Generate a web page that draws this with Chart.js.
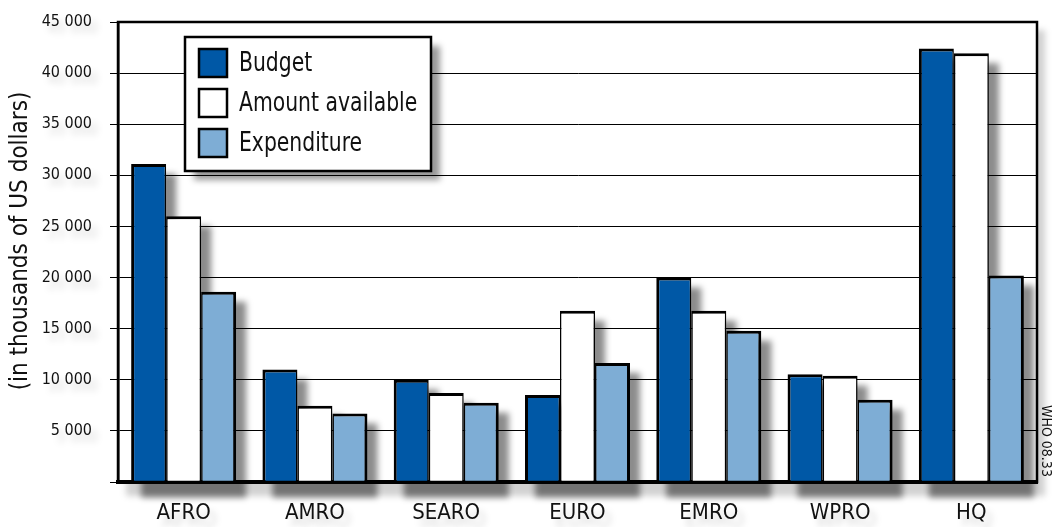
<!DOCTYPE html>
<html>
<head>
<meta charset="utf-8">
<script src="https://cdn.jsdelivr.net/npm/chart.js@4.4.1/dist/chart.umd.min.js"></script>
<style>
    html, body { margin: 0; padding: 0; background: #fff; }
    #wrap { position: relative; width: 1055px; height: 527px; }
</style>
</head>
<body>
<div id="wrap"><canvas id="budget-chart"></canvas></div>
<script>
// data (thousands of US dollars)
const regions = ['AFRO', 'AMRO', 'SEARO', 'EURO', 'EMRO', 'WPRO', 'HQ'];
const budget = [31100, 11000, 10000, 8500, 20000, 10550, 42400];
const amountAvailable = [26000, 7450, 8700, 16750, 16750, 10400, 41950];
const expenditure = [18600, 6700, 7750, 11650, 14800, 8050, 20200];
const seriesNames = ['Budget', 'Amount available', 'Expenditure'];
const seriesColors = ['#0058a6', '#ffffff', '#7eadd5'];
const yTitle = '(in thousands of US dollars)';

const FONT = "'DejaVu Sans Condensed', 'Liberation Sans Narrow', sans-serif";

// thousands with a space: 45 000
function fmt(v) {
    return String(v).replace(/\B(?=(\d{3})+(?!\d))/g, ' ');
}

// shadows under bars, frame and tick labels (drawn before grid)
const shadowPlugin = {
    id: 'shadows',
    beforeDraw(chart) {
        const ctx = chart.ctx;
        const area = chart.chartArea;
        ctx.save();
        ctx.filter = 'blur(3px)';

        // frame shadow, then clean white plot area
        ctx.fillStyle = 'rgba(0,0,0,0.18)';
        ctx.fillRect(area.left + 8, area.top + 8, area.right - area.left, area.bottom - area.top + 6);
        ctx.filter = 'none';
        ctx.fillStyle = '#fff';
        ctx.fillRect(area.left, area.top, area.right - area.left, area.bottom - area.top);
        ctx.filter = 'blur(3px)';

        // bar shadows, one path so overlaps don't get darker
        ctx.fillStyle = 'rgba(0,0,0,0.45)';
        ctx.beginPath();
        chart.data.datasets.forEach((ds, i) => {
            chart.getDatasetMeta(i).data.forEach(bar => {
                const left = bar.x - bar.width / 2;
                ctx.rect(left + 10, bar.y + 10, bar.width, bar.base - bar.y + 6);
            });
        });
        ctx.fill();

        // tick label shadows
        ctx.fillStyle = 'rgba(0,0,0,0.16)';
        const y = chart.scales.y;
        ctx.font = '16px ' + FONT;
        ctx.textAlign = 'right';
        ctx.textBaseline = 'middle';
        y.ticks.forEach(t => {
            if (t.value === 0) return;
            ctx.fillText(fmt(t.value), 98, y.getPixelForValue(t.value) + 7);
        });
        const x = chart.scales.x;
        ctx.font = '22px ' + FONT;
        ctx.textAlign = 'center';
        regions.forEach((r, i) => {
            ctx.fillText(r, x.getPixelForValue(i) + 6, 521);
        });
        ctx.restore();
    }
};

// frame, legend box, axis title and the small code at the right
const overlayPlugin = {
    id: 'overlay',
    afterDraw(chart) {
        const ctx = chart.ctx;
        const area = chart.chartArea;
        ctx.save();

        // plot frame
        ctx.strokeStyle = '#000';
        ctx.lineWidth = 2.5;
        ctx.strokeRect(area.left, area.top, area.right - area.left, area.bottom - area.top);

        // legend
        const lx = 185, ly = 37, lw = 246, lh = 134;
        ctx.save();
        ctx.filter = 'blur(3px)';
        ctx.fillStyle = 'rgba(0,0,0,0.4)';
        ctx.fillRect(lx + 9, ly + 9, lw, lh);
        ctx.restore();
        ctx.fillStyle = '#fff';
        ctx.fillRect(lx, ly, lw, lh);
        ctx.lineWidth = 2.5;
        ctx.strokeRect(lx, ly, lw, lh);

        ctx.textAlign = 'left';
        ctx.textBaseline = 'middle';
        chart.data.datasets.forEach((ds, i) => {
            const cy = 63 + i * 40;
            ctx.fillStyle = ds.backgroundColor;
            ctx.fillRect(199, cy - 14, 28, 28);
            ctx.lineWidth = 2.5;
            ctx.strokeStyle = '#000';
            ctx.strokeRect(199, cy - 14, 28, 28);
            ctx.save();
            ctx.translate(239, cy + 1);
            ctx.scale(0.87, 1);
            ctx.font = '26px ' + FONT;
            ctx.fillStyle = '#111';
            ctx.fillText(ds.label, 0, 0);
            ctx.restore();
        });

        // y axis title
        ctx.save();
        ctx.translate(21, 241);
        ctx.rotate(-Math.PI / 2);
        ctx.font = '24px ' + FONT;
        ctx.fillStyle = '#111';
        ctx.textAlign = 'center';
        ctx.textBaseline = 'middle';
        ctx.fillText(yTitle, 0, 0);
        ctx.restore();

        // WHO code
        ctx.translate(1046, 405);
        ctx.rotate(Math.PI / 2);
        ctx.font = '14px ' + FONT;
        ctx.fillStyle = '#111';
        ctx.textBaseline = 'middle';
        ctx.fillText('WHO 08.33', 0, 0);
        ctx.restore();
    }
};

function barBorder(side) {
    // thick outer edges of each group, thinner shared edges between bars
    if (side === 0) return { left: 3, right: 1.5, top: 3, bottom: 0 };
    if (side === 2) return { left: 1.5, right: 3, top: 3, bottom: 0 };
    return { left: 1.5, right: 1.5, top: 3, bottom: 0 };
}

const datasets = [budget, amountAvailable, expenditure].map((values, i) => ({
    label: seriesNames[i],
    data: values,
    backgroundColor: seriesColors[i],
    borderColor: '#000',
    borderWidth: barBorder(i),
    borderSkipped: false,
    categoryPercentage: 0.8,
    barPercentage: 1.0
}));

new Chart(document.getElementById('budget-chart'), {
    type: 'bar',
    data: { labels: regions, datasets: datasets },
    options: {
        responsive: true,
        maintainAspectRatio: false,
        animation: false,
        layout: { padding: { top: 22, right: 18, left: 0, bottom: 0 } },
        plugins: {
            legend: { display: false },
            tooltip: { enabled: false }
        },
        scales: {
            x: {
                grid: { display: false, drawTicks: false },
                border: { color: '#000', width: 4 },
                ticks: {
                    color: '#111',
                    font: { family: FONT, size: 22 },
                    padding: 18
                },
                afterFit(scale) { scale.height = 45; }
            },
            y: {
                min: 0,
                max: 45000,
                grid: { color: '#000', lineWidth: 1, tickLength: 8 },
                border: { color: '#000', width: 2.5 },
                ticks: {
                    stepSize: 5000,
                    color: '#111',
                    padding: 18,
                    font: { family: FONT, size: 16 },
                    callback: v => v === 0 ? '' : fmt(v)
                },
                afterFit(scale) {
                    scale.width = 118;
                    scale.paddingTop = 10;
                    scale.paddingBottom = 10;
                }
            }
        }
    },
    plugins: [shadowPlugin, overlayPlugin]
});
</script>
</body>
</html>
